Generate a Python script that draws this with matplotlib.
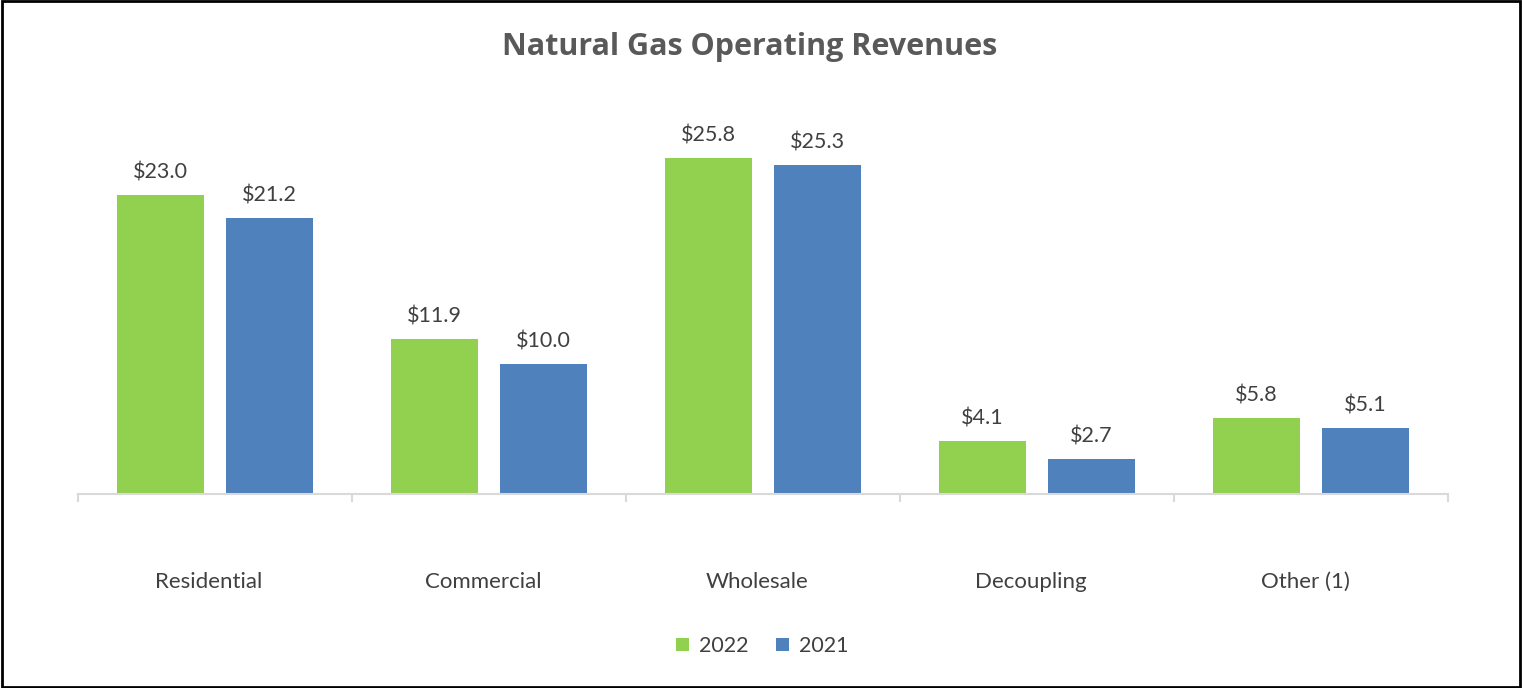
import matplotlib
matplotlib.use("Agg")
import matplotlib.pyplot as plt
import matplotlib.transforms as mtransforms
import numpy as np

# data
categories = ["Residential", "Commercial", "Wholesale", "Decoupling", "Other (1)"]
rev_2022 = [23.0, 11.9, 25.8, 4.1, 5.8]
rev_2021 = [21.2, 10.0, 25.3, 2.7, 5.1]

green = "#92d050"
blue = "#4f81bd"
text_col = "#595959"

plt.rcParams["font.family"] = ["Lato", "DejaVu Sans"]

fig = plt.figure(figsize=(15.22, 6.88), dpi=100)
ax = fig.add_axes([78 / 1522, 1 - 494 / 688, 1370 / 1522, 404 / 688])

x = np.arange(len(categories))
w = 0.3175
off = 0.199
ax.bar(x - off, rev_2022, w, color=green, label="2022", zorder=2)
ax.bar(x + off, rev_2021, w, color=blue, label="2021", zorder=2)

for xi, v in zip(x, rev_2022):
    ax.annotate(f"${v:.1f}", (xi - off, v), xytext=(0, 9), textcoords="offset points",
                ha="center", va="bottom", fontsize=15.5, color="#404040")
for xi, v in zip(x, rev_2021):
    ax.annotate(f"${v:.1f}", (xi + off, v), xytext=(0, 9), textcoords="offset points",
                ha="center", va="bottom", fontsize=15.5, color="#404040")

ax.set_xlim(-0.5, len(categories) - 0.5)
ax.set_ylim(0, 404 / 13.02)

for s in ["top", "right", "left"]:
    ax.spines[s].set_visible(False)
ax.spines["bottom"].set_color("#d9d9d9")
ax.spines["bottom"].set_linewidth(1.5)
ax.set_yticks([])

# category boundaries as tick marks, labels in the middle
ax.set_xticks(np.arange(len(categories) + 1) - 0.5)
ax.set_xticklabels([])
ax.tick_params(axis="x", length=6, width=1.5, color="#d9d9d9")
ax.set_xticks(x, minor=True)
ax.set_xticklabels(categories, minor=True)
ax.tick_params(axis="x", which="minor", length=0, pad=56, labelsize=16, labelcolor="#404040")
shift = mtransforms.ScaledTranslation(-6 / 100, 0, fig.dpi_scale_trans)
for lbl in ax.get_xticklabels(minor=True):
    lbl.set_transform(lbl.get_transform() + shift)

fig.text(750 / 1522, 1 - 47 / 688, "Natural Gas Operating Revenues", fontsize=22,
         fontweight="bold", color=text_col, ha="center", va="center",
         family=["Open Sans", "DejaVu Sans"])

fig.legend(loc="center", bbox_to_anchor=(762 / 1522, 1 - 646 / 688), ncol=2,
           frameon=False, fontsize=15.5, handlelength=0.6, handleheight=0.6,
           columnspacing=1.3, handletextpad=0.45, labelcolor="#404040")

# border around whole picture
fig.patches.append(plt.Rectangle((0.001, 0.002), 0.998, 0.996, transform=fig.transFigure,
                                 fill=False, edgecolor="black", linewidth=2))

fig.savefig("out.png", dpi=100)
